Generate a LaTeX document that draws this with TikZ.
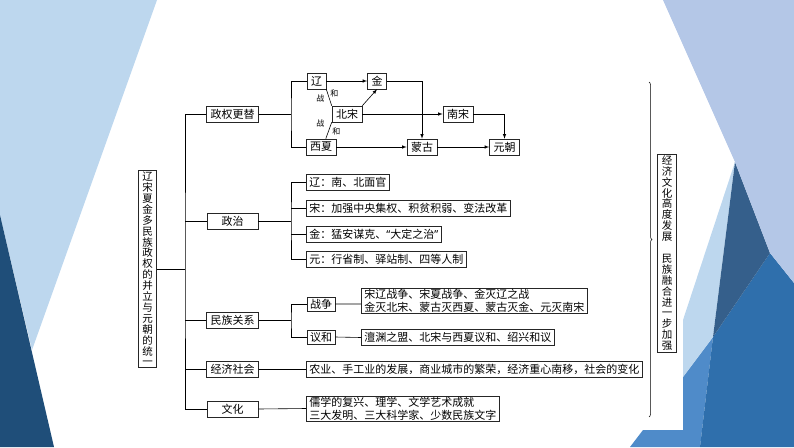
\documentclass[tikz,border=0pt]{standalone}
\usepackage{fontspec}
\setmainfont{Noto Sans CJK SC}
\newfontfamily\latinquote{Noto Sans}
\usetikzlibrary{arrows,decorations.pathreplacing}

\definecolor{paleblue}{HTML}{BDD7EE}
\definecolor{navy}{HTML}{1F4E79}
\definecolor{lilac}{HTML}{B4C7E7}
\definecolor{slateblue}{HTML}{355F8B}
\definecolor{deepblue}{HTML}{2F6FAC}
\definecolor{midblue}{HTML}{4F8BC9}

\begin{document}
\begin{tikzpicture}[x=1pt,y=-1pt,line width=0.6pt,
  box/.style={draw=black!85,inner xsep=4pt,inner ysep=1pt,minimum height=16pt,
    font=\fontsize{11}{13}\selectfont},
  head/.style={box,minimum width=51pt},
  item/.style={box,anchor=west,inner xsep=3pt,align=left},
  small/.style={box,minimum height=14pt,minimum width=28pt,inner xsep=2pt},
  tall/.style={draw=black!85,align=center,inner xsep=4pt,inner ysep=1.5pt,
    font=\fontsize{10.5}{10.9}\selectfont},
  lbl/.style={font=\fontsize{8}{9}\selectfont,inner sep=0.5pt},
  flow/.style={-latex}]
\useasboundingbox (0,0) rectangle (794,447);

%%% slide background %%%
\fill[paleblue] (0,0) -- (157,0) -- (32,350) -- (0,215) -- cycle;
\fill[navy] (0,215) -- (54,447) -- (0,447) -- cycle;
\fill[midblue] (713,337) -- (700,447) -- (630,447) -- (643,430) -- (683,430) -- (683,377) -- cycle;
\fill[deepblue] (770,253) -- (794,283) -- (794,447) -- (700,447) -- (713,337) -- cycle;
\fill[paleblue] (735,162) -- (713,337) -- (683,377) -- (683,320) -- cycle;
\fill[slateblue] (735,162) -- (770,253) -- (713,337) -- cycle;
\fill[lilac] (663,0) -- (794,0) -- (794,283) -- (770,253) -- (735,162) -- cycle;

%%% title and main branches %%%
  \node (title) at (147.5,269) [tall] {辽\\宋\\夏\\金\\多\\民\\族\\政\\权\\的\\并\\立\\与\\元\\朝\\的\\统\\一};
  \node (zq) at (232.5,114.5) [head] {政权更替};
  \node (zz) at (232.5,221.5) [head] {政治};
  \node (mz) at (232.5,320) [head] {民族关系};
  \node (jj) at (232.5,369.5) [head] {经济社会};
  \node (wh) at (232.5,409) [head] {文化};
  \coordinate (spine) at (185,269);

\draw (title.east) -- (spine);
\draw (zq.west) -| (spine) |- (wh.west);
\draw (zz.west) -- (zz.west -| spine)
   (mz.west) -- (mz.west -| spine)
   (jj.west) -- (jj.west -| spine);

%%% regime change %%%
  \node (liao) at (316.5,81) [box] {辽};
  \node (jin) at (377,81) [box] {金};
  \node (beisong) at (347,114) [box] {北宋};
  \node (xixia) at (321,147) [box] {西夏};
  \node (menggu) at (422,147) [box] {蒙古};
  \node (nansong) at (458,114) [box] {南宋};
  \node (yuan) at (504.5,147) [box] {元朝};
  \coordinate (fork1) at (291,114.5);

\draw (zq.east) -- (fork1);
\draw (liao.west) -| (fork1) |- (xixia.west);
\draw (liao.south east) -- node[lbl,pos=0.25,right=2pt] {和} node[lbl,pos=0.55,left=4pt] {战} (beisong.north west);
\draw (beisong.south west) -- node[lbl,pos=0.1,left=6pt] {战} node[lbl,pos=0.55,right=3pt] {和} (xixia.60);

\draw[flow] (liao) -- (jin);
\draw[flow] (jin) -| (menggu);
\draw[flow] (beisong) -- (nansong);
\draw[flow] (nansong) -| (yuan);
\draw[flow] (beisong.north east) -- (jin.south);
\draw[flow] (xixia) -- (menggu);
\draw[flow] (menggu) -- (yuan);

%%% politics %%%
  \node (pliao) at (306,182.5) [item] {辽：南、北面官};
  \node (psong) at (306,208) [item] {宋：加强中央集权、积贫积弱、变法改革};
  \node (pjin) at (306,234) [item] {金：猛安谋克、{\latinquote “}大定之治{\latinquote ”}};
  \node (pyuan) at (306,259) [item] {元：行省制、驿站制、四等人制};
  \coordinate (fork2) at (291,221.5);

\draw (zz.east) -- (fork2);
\draw (pliao.west) -| (fork2) |- (pyuan.west);
\draw (psong.west) -- (psong.west -| fork2)
   (pjin.west) -- (pjin.west -| fork2);

%%% ethnic relations %%%
  \node (war) at (321,304) [small] {战争};
  \node (peace) at (321,337) [small] {议和};
  \node (wartext) at (361,300.5) [item] {宋辽战争、宋夏战争、金灭辽之战\\金灭北宋、蒙古灭西夏、蒙古灭金、元灭南宋};
  \node (peacetext) at (361,337.5) [item] {澶渊之盟、北宋与西夏议和、绍兴和议};
  \coordinate (fork3) at (291,320);

\draw (mz.east) -- (fork3);
\draw (war.west) -| (fork3) |- (peace.west);
\draw (war.east) -- (war.east -| wartext.west)
   (peace.east) -- (peacetext.west);

%%% economy and culture %%%
  \node (jjtext) at (306,369.5) [item] {农业、手工业的发展，商业城市的繁荣，经济重心南移，社会的变化};
  \node (whtext) at (306,408.5) [item] {儒学的复兴、理学、文学艺术成就\\三大发明、三大科学家、少数民族文字};

\draw (jj.east) -- (jjtext.west)
   (wh.east) -- (whtext.west);

%%% summary %%%
  \coordinate (brtop) at (649,82);
  \coordinate (brbot) at (649,417);
  \node (concl) at (667,253) [tall] {经\\济\\文\\化\\高\\度\\发\\展\\[10.9pt]民\\族\\融\\合\\进\\一\\步\\加\\强};

\draw[line width=0.5pt,decorate,decoration={brace,amplitude=3pt,aspect=0.47}] (brtop) -- (brbot);
\end{tikzpicture}
\end{document}
